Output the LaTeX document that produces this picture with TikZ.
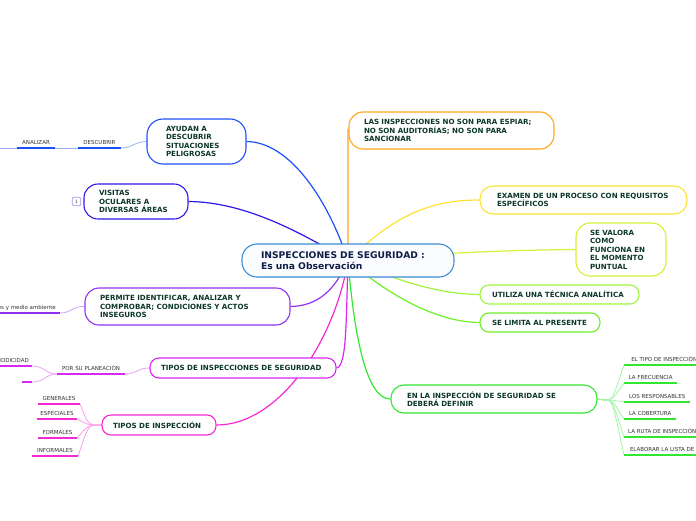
\documentclass[tikz,border=0pt]{standalone}
\usepackage{fontspec}
\setmainfont{DejaVu Sans}
\usetikzlibrary{backgrounds}
\definecolor{txtg}{RGB}{12,56,40}
\definecolor{navy}{RGB}{16,30,70}
\definecolor{ccen}{RGB}{60,140,210}
\definecolor{cenfill}{RGB}{250,252,255}
\definecolor{cb1}{RGB}{30,80,250}
\definecolor{cb2}{RGB}{45,25,230}
\definecolor{cb3}{RGB}{145,50,240}
\definecolor{cb4}{RGB}{215,40,240}
\definecolor{cb5}{RGB}{245,40,210}
\definecolor{cb6}{RGB}{255,165,30}
\definecolor{cb7}{RGB}{255,225,50}
\definecolor{cb8}{RGB}{215,240,50}
\definecolor{cb9}{RGB}{160,245,60}
\definecolor{cb10}{RGB}{110,240,40}
\definecolor{cb11}{RGB}{50,230,50}
\definecolor{leafg}{RGB}{50,50,50}
\begin{document}
\begin{tikzpicture}[x=1pt,y=-1pt,
  bnode/.style={draw, line width=1.1pt, fill=white, text=txtg,
    font=\bfseries\fontsize{7.1}{8.5}\selectfont, align=left, inner ysep=0pt},
  leaf/.style={font=\fontsize{5.5}{6.5}\selectfont, text=leafg, inner xsep=0pt,
    inner ysep=1.2pt, text depth=2.4pt, minimum width=#1, anchor=south},
  uline/.style={line width=1.8pt, draw=#1},
  conn/.style={line width=1.2pt, draw=#1},
  lconn/.style={line width=0.8pt, draw=#1!45},
]
\useasboundingbox (0,0) rectangle (696,520);

% central
\node[bnode, draw=ccen, fill=cenfill, text=navy, font=\bfseries\fontsize{9.2}{11}\selectfont,
  rounded corners=15pt, minimum height=33pt, text width=174pt, inner xsep=19pt]
  (c) at (348,260.5) {INSPECCIONES DE SEGURIDAD :\\Es una Observación};

% left branches
\node[bnode, draw=cb1, rounded corners=16pt, minimum height=45pt, text width=61pt, inner xsep=19pt]
  (n1) at (196.5,141.5) {AYUDAN A\\DESCUBRIR\\SITUACIONES\\PELIGROSAS};
\node[bnode, draw=cb2, rounded corners=14pt, minimum height=35pt, text width=74pt, inner xsep=15pt]
  (n2) at (136,201.5) {VISITAS\\OCULARES A\\DIVERSAS ÁREAS};
\node[bnode, draw=cb3, rounded corners=14pt, minimum height=37pt, text width=175pt, inner xsep=15pt]
  (n3) at (187.5,306.5) {PERMITE IDENTIFICAR, ANALIZAR Y\\COMPROBAR; CONDICIONES Y ACTOS\\INSEGUROS};
\node[bnode, draw=cb4, rounded corners=9pt, minimum height=20pt, text width=164pt, inner xsep=11pt]
  (n4) at (243,368) {TIPOS DE INSPECCIONES DE SEGURIDAD};
\node[bnode, draw=cb5, rounded corners=9pt, minimum height=20pt, text width=92pt, inner xsep=11pt]
  (n5) at (159,425) {TIPOS DE INSPECCIÓN};

% right branches
\node[bnode, draw=cb6, rounded corners=14pt, minimum height=37pt, text width=175pt, inner xsep=15pt]
  (n6) at (451.5,130.5) {LAS INSPECCIONES NO SON PARA ESPIAR;\\NO SON AUDITORÍAS; NO SON PARA\\SANCIONAR};
\node[bnode, draw=cb7, rounded corners=13pt, minimum height=28pt, text width=173pt, inner xsep=17pt]
  (n7) at (583.5,200) {EXAMEN DE UN PROCESO CON REQUISITOS\\ESPECÍFICOS};
\node[bnode, draw=cb8, rounded corners=14pt, minimum height=53pt, text width=62pt, inner xsep=14pt]
  (n8) at (621,249.5) {SE VALORA\\COMO\\FUNCIONA EN\\EL MOMENTO\\PUNTUAL};
\node[bnode, draw=cb9, rounded corners=9pt, minimum height=19pt, text width=135pt, inner xsep=12pt]
  (n9) at (559.5,294.5) {UTILIZA UNA TÉCNICA ANALÍTICA};
\node[bnode, draw=cb10, rounded corners=9pt, minimum height=19pt, text width=96pt, inner xsep=12pt]
  (n10) at (540,322.5) {SE LIMITA AL PRESENTE};
\node[bnode, draw=cb11, rounded corners=13pt, minimum height=28pt, text width=174pt, inner xsep=16pt]
  (n11) at (494,399) {EN LA INSPECCIÓN DE SEGURIDAD SE\\DEBERÁ DEFINIR};

% small marker
\node[draw=cb2!45, line width=0.7pt, rounded corners=2pt, minimum size=8.5pt, inner sep=0pt,
  font=\fontsize{4.5}{5}\selectfont, text=leafg] (one) at (76.5,201.5) {1};

% leaves of n1
\node[leaf=43pt] (desc) at (99.5,148) {DESCUBRIR};
\node[leaf=38pt] (ana) at (36,148) {ANALIZAR};
\coordinate (anaL) at (0,148);
% leaf of n3
\node[leaf=0pt, anchor=south east] (amb) at (56,313) {es y medio ambiente};
\coordinate (ambL) at (0,313);
\coordinate (ambR) at (60,313);
% leaves of n4
\node[leaf=68pt] (plan) at (91,374) {POR SU PLANEACIÓN};
\node[leaf=0pt, anchor=south east] (peri) at (29,366) {PERIODICIDAD};
\coordinate (periL) at (0,366);
\coordinate (periR) at (32,366);
\node[leaf=10pt] (blank) at (27,382) {};
% leaves of n5
\node[leaf=42pt] (gen) at (59,404) {GENERALES};
\node[leaf=40pt] (esp) at (57,419) {ESPECIALES};
\node[leaf=39pt] (for) at (57.5,438) {FORMALES};
\node[leaf=46pt] (inf) at (55,456) {INFORMALES};
% leaves of n11
\node[leaf=80pt, anchor=south west] (r1) at (624,365) {EL TIPO DE INSPECCIÓN};
\node[leaf=53pt, anchor=south west] (r2) at (624,383) {LA FRECUENCIA};
\node[leaf=66pt, anchor=south west] (r3) at (624,402) {LOS RESPONSABLES};
\node[leaf=52pt, anchor=south west] (r4) at (624,419) {LA COBERTURA};
\node[leaf=76pt, anchor=south west] (r5) at (624,437) {LA RUTA DE INSPECCIÓN};
\node[leaf=76pt, anchor=south west] (r6) at (624,455) {ELABORAR LA LISTA DE};

% underlines
\draw[uline=cb1] (desc.south west) -- (desc.south east);
\draw[uline=cb1] (ana.south west) -- (ana.south east);
\draw[uline=cb3] (ambL) -- (ambR);
\draw[uline=cb4] (plan.south west) -- (plan.south east);
\draw[uline=cb4] (periL) -- (periR);
\draw[uline=cb4] (blank.south west) -- (blank.south east);
\foreach \n in {gen,esp,for,inf}{\draw[uline=cb5] (\n.south west) -- (\n.south east);}
\foreach \n in {r1,r2,r3,r4,r5,r6}{\draw[uline=cb11] (\n.south west) -- (\n.south east);}

\begin{scope}[on background layer]
  % main connectors
  \draw[conn=cb1] (c.center) .. controls (328,200) and (290,142) .. (n1.east);
  \draw[conn=cb2] (c.center) .. controls (300,232) and (245,202) .. (n2.east);
  \draw[conn=cb3] (c.center) .. controls (335,290) and (318,306) .. (n3.east);
  \draw[conn=cb4] (c.center) .. controls (346,320) and (347,366) .. (n4.east);
  \draw[conn=cb5] (c.center) .. controls (335,340) and (280,425) .. (n5.east);
  \draw[conn=cb6] (c.center) -- (348,130) -- (n6.west);
  \draw[conn=cb7] (c.center) .. controls (395,215) and (430,200) .. (n7.west);
  \draw[conn=cb8] (c.center) .. controls (450,252) and (520,250) .. (n8.west);
  \draw[conn=cb9] (c.center) .. controls (405,283) and (440,294) .. (n9.west);
  \draw[conn=cb10] (c.center) .. controls (395,300) and (440,322) .. (n10.west);
  \draw[conn=cb11] (c.center) .. controls (355,345) and (368,399) .. (n11.west);
  % leaf connectors
  \draw[lconn=cb1] (n1.west) .. controls (133,142) and (133,148) .. (desc.south east);
  \draw[lconn=cb1] (desc.south west) -- (ana.south east);
  \draw[lconn=cb1] (ana.south west) -- (anaL);
  \draw[lconn=cb3] (n3.west) .. controls (72,306) and (72,313) .. (ambR);
  \draw[lconn=cb4] (n4.west) .. controls (137,368) and (137,374) .. (plan.south east);
  \draw[lconn=cb4] (plan.south west) .. controls (45,374) and (45,366) .. (periR);
  \draw[lconn=cb4] (plan.south west) .. controls (45,374) and (45,382) .. (blank.south east);
  \foreach \n in {gen,esp,for,inf}{
    \draw[lconn=cb5] (n5.west) -- (97,425) .. controls (89,425) and (88,425) .. (\n.south east);}
  \foreach \n in {r1,r2,r3,r4,r5,r6}{
    \draw[lconn=cb11] (n11.east) -- (604,400) .. controls (613,400) and (612,400) .. (\n.south west);}
\end{scope}
\end{tikzpicture}
\end{document}
